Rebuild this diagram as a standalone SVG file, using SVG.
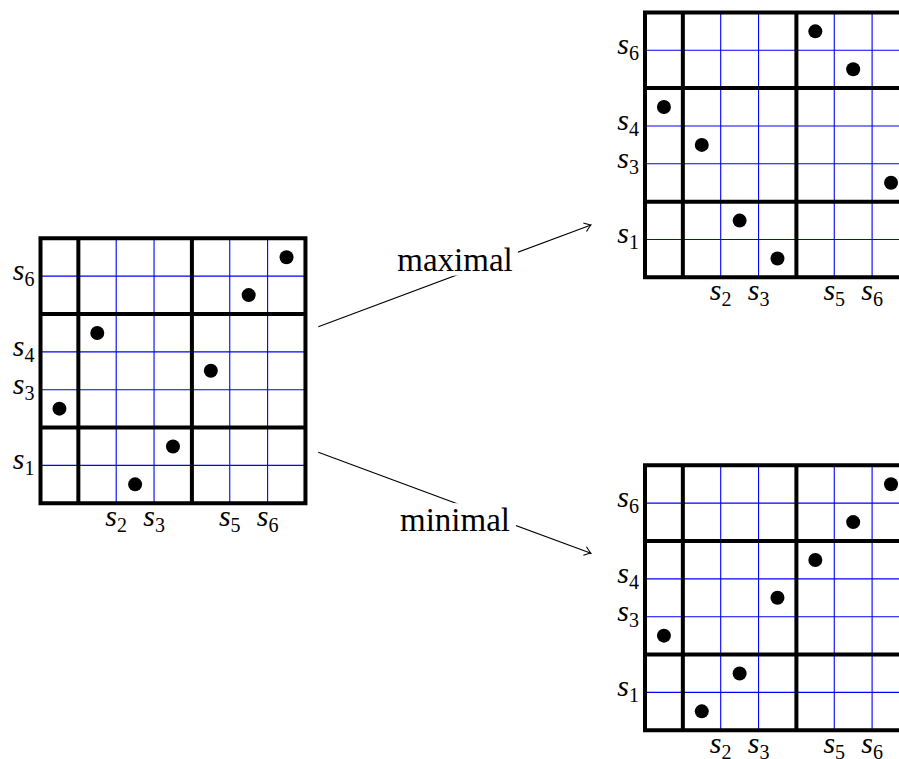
<svg xmlns="http://www.w3.org/2000/svg" xmlns:xlink="http://www.w3.org/1999/xlink" width="899" height="759" viewBox="0 0 899 759">
<style>
.blue{stroke:#0000ff;stroke-width:1.1;fill:none}
.thick{stroke:#000;stroke-width:4;fill:none;stroke-linecap:square}
.dot{fill:#000}
.lbl{font-family:'Liberation Serif','Times New Roman',serif;font-size:30px;fill:#000}
.s{font-style:italic}
.sub{font-size:20px}
.edge{stroke:#000;stroke-width:1.1;fill:none}
.elbl{font-family:'Liberation Serif','Times New Roman',serif;font-size:33px;fill:#000;text-anchor:middle}
</style>
<defs>
<marker id="to" markerUnits="userSpaceOnUse" markerWidth="14" markerHeight="14" refX="0" refY="0" viewBox="-8 -7 10 14" orient="auto">
<path d="M-6.5,-4.5 Q-2,-1 0,0 Q-2,1 -6.5,4.5" fill="none" stroke="#000" stroke-width="1.1"/>
</marker>
<g id="grid">
<path class="blue" d="M75.7,0V264.95M113.55,0V264.95M189.25,0V264.95M227.1,0V264.95M0,37.85H264.95M0,113.55H264.95M0,151.4H264.95M0,227.1H264.95"/>
<path class="thick" d="M0,0V264.95M37.85,0V264.95M151.4,0V264.95M264.95,0V264.95M0,0H264.95M0,75.7H264.95M0,189.25H264.95M0,264.95H264.95"/>
</g>
<g id="labels" class="lbl">
<text x="-6" y="41.85" text-anchor="end"><tspan class="s">s</tspan><tspan class="sub" dy="6">6</tspan></text>
<text x="-6" y="117.55" text-anchor="end"><tspan class="s">s</tspan><tspan class="sub" dy="6">4</tspan></text>
<text x="-6" y="155.4" text-anchor="end"><tspan class="s">s</tspan><tspan class="sub" dy="6">3</tspan></text>
<text x="-6" y="231.1" text-anchor="end"><tspan class="s">s</tspan><tspan class="sub" dy="6">1</tspan></text>
<text x="75.7" y="287.7" text-anchor="middle"><tspan class="s">s</tspan><tspan class="sub" dy="6">2</tspan></text>
<text x="113.55" y="287.7" text-anchor="middle"><tspan class="s">s</tspan><tspan class="sub" dy="6">3</tspan></text>
<text x="189.25" y="287.7" text-anchor="middle"><tspan class="s">s</tspan><tspan class="sub" dy="6">5</tspan></text>
<text x="227.1" y="287.7" text-anchor="middle"><tspan class="s">s</tspan><tspan class="sub" dy="6">6</tspan></text>
</g>
</defs>

<g id="left" transform="translate(40.5,238.3)">
<use xlink:href="#grid" href="#grid"/>
<use xlink:href="#labels" href="#labels"/>
<circle class="dot" r="7" cx="18.93" cy="170.33"/>
<circle class="dot" r="7" cx="56.78" cy="94.63"/>
<circle class="dot" r="7" cx="94.63" cy="246.03"/>
<circle class="dot" r="7" cx="132.48" cy="208.18"/>
<circle class="dot" r="7" cx="170.33" cy="132.48"/>
<circle class="dot" r="7" cx="208.18" cy="56.78"/>
<circle class="dot" r="7" cx="246.03" cy="18.93"/>
</g>

<g id="maximal-grid" transform="translate(645,12.4)">
<use xlink:href="#grid" href="#grid"/>
<use xlink:href="#labels" href="#labels"/>
<circle class="dot" r="7" cx="18.93" cy="94.63"/>
<circle class="dot" r="7" cx="56.78" cy="132.48"/>
<circle class="dot" r="7" cx="94.63" cy="208.18"/>
<circle class="dot" r="7" cx="132.48" cy="246.03"/>
<circle class="dot" r="7" cx="170.33" cy="18.93"/>
<circle class="dot" r="7" cx="208.18" cy="56.78"/>
<circle class="dot" r="7" cx="246.03" cy="170.33"/>
</g>

<g id="minimal-grid" transform="translate(645,465.3)">
<use xlink:href="#grid" href="#grid"/>
<use xlink:href="#labels" href="#labels"/>
<circle class="dot" r="7" cx="18.93" cy="170.33"/>
<circle class="dot" r="7" cx="56.78" cy="246.03"/>
<circle class="dot" r="7" cx="94.63" cy="208.18"/>
<circle class="dot" r="7" cx="132.48" cy="132.48"/>
<circle class="dot" r="7" cx="170.33" cy="94.63"/>
<circle class="dot" r="7" cx="208.18" cy="56.78"/>
<circle class="dot" r="7" cx="246.03" cy="18.93"/>
</g>

<g id="connectors">
<line class="edge" x1="318.3" y1="326.7" x2="591" y2="225" marker-end="url(#to)"/>
<line class="edge" x1="318.3" y1="452.3" x2="591" y2="553.3" marker-end="url(#to)"/>
<rect x="392" y="243" width="126" height="32.6" fill="#fff"/>
<text class="elbl" x="455" y="271">maximal</text>
<rect x="395" y="503.2" width="121" height="36" fill="#fff"/>
<text class="elbl" x="455" y="531">minimal</text>
</g>
</svg>
